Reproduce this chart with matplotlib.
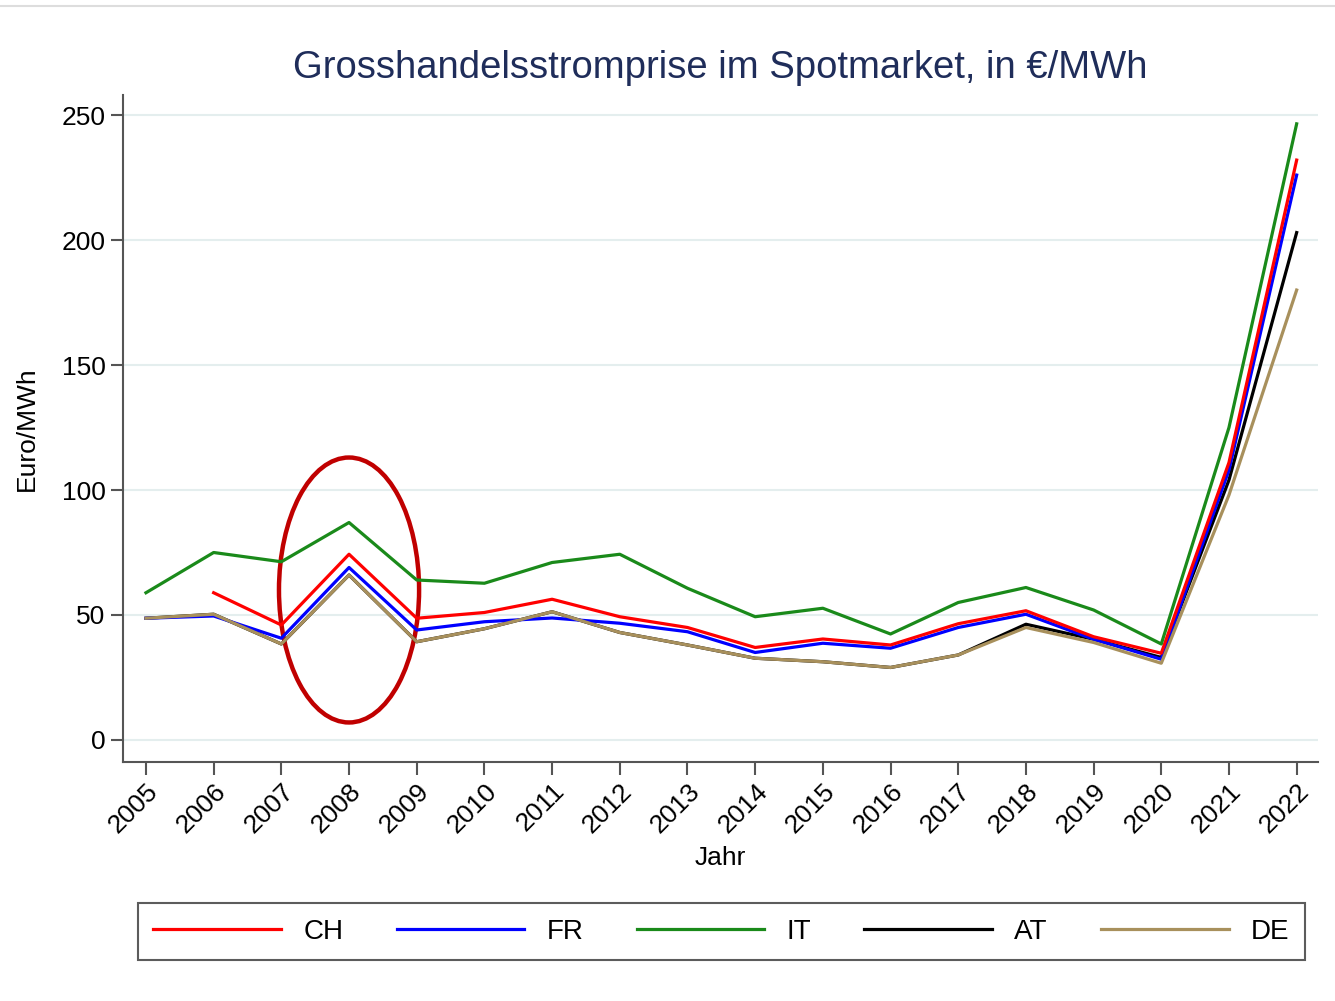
import matplotlib.pyplot as plt
from matplotlib.patches import Ellipse
from matplotlib.lines import Line2D

plt.rcParams['font.family'] = ['Liberation Sans', 'DejaVu Sans']

years = list(range(2005, 2023))
ch = [None, 58.9, 46.0, 74.3, 48.7, 51.0, 56.3, 49.3, 45.0, 37.0, 40.4, 38.0, 46.5, 51.7, 41.3, 34.7, 111, 232]
fr = [48.7, 49.6, 40.7, 69.0, 44.0, 47.3, 48.8, 46.7, 43.3, 35.0, 38.7, 36.7, 45.0, 50.3, 40.3, 32.3, 108, 226]
it = [58.9, 75.0, 71.3, 87.0, 64.0, 62.7, 71.0, 74.3, 60.7, 49.3, 52.7, 42.4, 55.0, 61.0, 52.0, 38.4, 125, 246.5]
at = [48.7, 50.3, 38.4, 66.0, 39.3, 44.5, 51.3, 43.0, 38.0, 32.7, 31.3, 29.0, 34.0, 46.3, 40.3, 33.0, 104, 203]
de = [48.7, 50.3, 38.4, 66.0, 39.3, 44.5, 51.3, 43.0, 38.0, 32.7, 31.3, 29.0, 34.0, 45.0, 39.0, 30.7, 98, 180]

series = {'CH': (ch, '#ff0000'), 'FR': (fr, '#0000ff'), 'IT': (it, '#1a8a1a'),
          'AT': (at, '#000000'), 'DE': (de, '#a8905c')}

fig = plt.figure(figsize=(13.35, 10.01), dpi=100)
ax = fig.add_axes([0.0921, 0.2388, 0.8949, 0.6662])

# AT sits under DE where both share a price zone
for name in ['AT', 'FR', 'DE', 'CH', 'IT']:
    vals, col = series[name]
    xs = [y for y, v in zip(years, vals) if v is not None]
    ys = [v for v in vals if v is not None]
    ax.plot(xs, ys, color=col, lw=2.3)

ax.set_xlim(2004.66, 2022.31)
ax.set_ylim(-8.8, 258)
ax.set_yticks([0, 50, 100, 150, 200, 250])
ax.set_xticks(years)
ax.set_xticklabels([str(y) for y in years], rotation=45, ha='right', rotation_mode='anchor')
ax.tick_params(axis='both', labelsize=19, length=9, width=1.5, color='#555555', direction='out')
ax.tick_params(axis='x', pad=3)
ax.grid(axis='y', color='#e4eeee', lw=1.5)
ax.set_axisbelow(True)
for s in ['top', 'right']:
    ax.spines[s].set_visible(False)
for s in ['left', 'bottom']:
    ax.spines[s].set_color('#555555')
    ax.spines[s].set_linewidth(1.5)

ax.set_ylabel('Euro/MWh', fontsize=19, labelpad=16)
ax.set_xlabel('Jahr', fontsize=19, labelpad=6)
ax.set_title('Grosshandelsstromprise im Spotmarket, in €/MWh', fontsize=27.5,
             color='#1f2d5a', pad=12)

ax.add_patch(Ellipse((2008, 60), 2.07, 106, fill=False, edgecolor='#c00000', lw=3.2))

names = list(series)
handles = [Line2D([0], [0], color=series[n][1], lw=2.3) for n in names]
leg = fig.legend(handles, names, loc='lower left', ncol=5, mode='expand',
                 bbox_to_anchor=(0.1034, 0.041, 0.874, 0.065), fontsize=20,
                 handlelength=4.6, handletextpad=0.8, fancybox=False, shadow=False,
                 borderaxespad=0, frameon=True, borderpad=0.55)
leg.get_frame().set_edgecolor('#333333')
leg.get_frame().set_linewidth(1.5)

fig.add_artist(Line2D([0, 1], [0.994, 0.994], color='#dddddd', lw=1.5))

fig.savefig('out.png', dpi=100)
